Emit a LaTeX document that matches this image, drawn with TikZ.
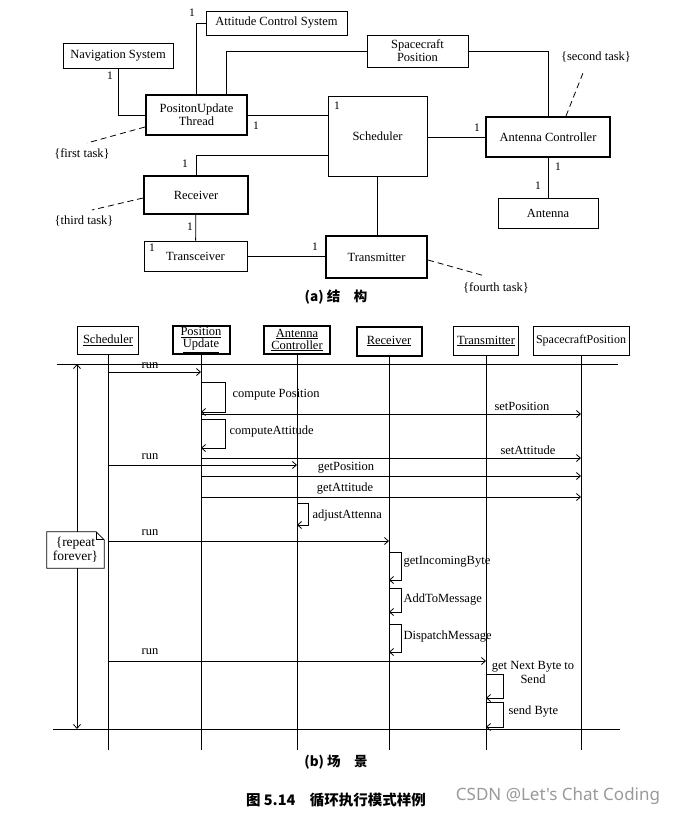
\documentclass[tikz,border=0pt]{standalone}
\usepackage{fontspec}
\setmainfont{Liberation Serif}
\newfontfamily\cjk{Noto Sans CJK SC}
\newfontfamily\wmfont{Noto Sans}
\usetikzlibrary{arrows.meta}

\tikzset{
	every node/.style={font=\fontsize{12.5}{13}\selectfont},
	obj/.style={draw, line width=0.8pt, inner sep=0.5pt, align=center},
	task/.style={obj, line width=2pt},
	mult/.style={inner sep=0pt, font=\fontsize{11.5}{12}\selectfont},
	tagtext/.style={inner sep=0pt, font=\fontsize{12.5}{13}\selectfont},
	tag/.style={line width=0.8pt, dash pattern=on 6pt off 4pt},
	link/.style={line width=0.8pt},
	msg/.style={line width=0.8pt, ->},
	>={Straight Barb[length=4pt,width=7pt]},
}

\begin{document}
\begin{tikzpicture}[x=1pt,y=-1pt]
	\useasboundingbox (0,0) rectangle (686,815);
	% (a) structure
	\node[obj, minimum width=141pt, minimum height=24pt] (acs) at (276.5,23) {Attitude Control System};
	\node[obj, minimum width=110pt, minimum height=25pt] (nav) at (118,55.5) {Navigation System};
	\node[task, minimum width=101pt, minimum height=40pt] (pu) at (196.5,115) {PositonUpdate\\Thread};
	\node[obj, minimum width=99pt, minimum height=80pt] (sched) at (377.5,136) {Scheduler};
	\node[obj, minimum width=101pt, minimum height=32pt] (sp) at (417.5,51) {Spacecraft\\Position};
	\node[task, minimum width=124pt, minimum height=40pt] (ac) at (548,137) {Antenna Controller};
	\node[obj, minimum width=100pt, minimum height=30pt] (ant) at (548,213) {Antenna};
	\node[task, minimum width=104pt, minimum height=38pt] (rec) at (196,195) {Receiver};
	\node[obj, minimum width=103pt, minimum height=30pt] (trc) at (195.5,256) {Transceiver};
	\node[task, minimum width=101pt, minimum height=42pt] (trm) at (376.5,257) {Transmitter};

	\draw[link] (nav.south) |- (pu.west);
	\draw[link] (pu.north) |- (acs.west);
	\draw[link] ([xshift=29.5pt]pu.north) |- (sp.west);
	\draw[link] (sp.east) -| (ac.north);
	\draw[link] (pu.east) -- (pu.east -| sched.west);
	\draw[link] (sched.east |- ac.west) -- (ac.west);
	\draw[link] (ac) -- (ant);
	\draw[link] ([yshift=-19pt]sched.west) -| (rec.north);
	\draw[link] (rec) -- (trc);
	\draw[link] (trc.east) -- (trc.east -| trm.west);
	\draw[link] (sched.south) -- (sched.south |- trm.north);

	\node[mult] (m1) at (110,76) {1};
	\node[mult] (m2) at (192,13) {1};
	\node[mult] (m3) at (256,126) {1};
	\node[mult] (m4) at (337,106) {1};
	\node[mult] (m5) at (185,164) {1};
	\node[mult] (m6) at (477,128) {1};
	\node[mult] (m7) at (558,167) {1};
	\node[mult] (m8) at (538,186) {1};
	\node[mult] (m9) at (190,227) {1};
	\node[mult] (m10) at (152,248) {1};
	\node[mult] (m11) at (315,247) {1};

	\node[tagtext] (t1) at (82,154) {\{first task\}};
	\node[tagtext] (t2) at (596,57) {\{second task\}};
	\node[tagtext] (t3) at (84,221) {\{third task\}};
	\node[tagtext] (t4) at (496,288) {\{fourth task\}};
	\coordinate (t1e) at (87,143);
	\coordinate (t2e) at (583,73);
	\coordinate (t3e) at (92,210);
	\coordinate (t4e) at (485,276);
	\draw[tag] ([yshift=-12pt]pu.west) -- (t1e);
	\draw[tag] ([xshift=18pt]ac.north) -- (t2e);
	\draw[tag] ([yshift=-3pt]rec.west) -- (t3e);
	\draw[tag] ([yshift=-3pt]trm.east) -- (t4e);

	\node[font=\cjk\bfseries\fontsize{13.5}{14}\selectfont] (capa) at (336,297) {(a)\ 结\quad 构};

	% (b) scenario
	\node[obj, minimum width=61pt, minimum height=28pt] (h1) at (108,340) {\underline{Scheduler}};
	\node[task, minimum width=57pt, minimum height=28pt, font=\fontsize{12.5}{12}\selectfont] (h2) at (201,340) {\underline{Position}\\\underline{Update}};
	\node[task, minimum width=66pt, minimum height=28pt, font=\fontsize{12.5}{12}\selectfont] (h3) at (297,340) {\underline{Antenna}\\\underline{Controller}};
	\node[task, minimum width=65pt, minimum height=29pt] (h4) at (389,341) {\underline{Receiver}};
	\node[obj, minimum width=65pt, minimum height=29pt] (h5) at (486,341) {\underline{Transmitter}};
	\node[obj, minimum width=96pt, minimum height=29pt, font=\fontsize{12}{12}\selectfont] (h6) at (581,341) {SpacecraftPosition};

	\foreach \h in {h1,h2,h3,h4,h5,h6}
		\draw[link] (\h.south) -- (\h |- 0,750);

	\coordinate (lt) at (57,364);
	\coordinate (rt) at (618,364);
	\coordinate (lb) at (53,729);
	\coordinate (rb) at (620,729);
	\draw[link] (lt) -- (rt);
	\draw[link] (lb) -- (rb);

	% loop bracket
	\coordinate (ltop) at (77,364);
	\coordinate (lbot) at (77,729);
	\draw[link,<->] (ltop) -- (lbot);
	\node[inner sep=0pt, font=\fontsize{13.5}{14}\selectfont, minimum width=57pt, minimum height=36pt, fill=white, align=center] (rep) at (75.5,550) {\{repeat\\forever\}};
	\draw[link] (rep.north west) -- ([xshift=-8pt]rep.north east) -- ([yshift=-8pt]rep.north east) -- (rep.south east) -- (rep.south west) -- cycle;
	\draw[link] ([xshift=-8pt]rep.north east) |- ([yshift=-8pt]rep.north east);

	% messages
	\foreach \a/\b/\y/\t/\lx/\d in {h1/h2/372/run/150/6, h2/h6/414/setPosition/522/8, h2/h6/458/setAttitude/528/8,
		h1/h3/465/run/150/8, h2/h6/476/getPosition/346/8, h2/h6/497/getAttitude/345/8,
		h1/h4/541/run/150/8, h1/h5/661/run/150/9} {
		\draw[msg] (\a |- 0,\y) -- (\b |- 0,\y);
		\node (lab\y) at (\lx,\y-\d) {\t};
	}

	% self calls
	\foreach \h/\t/\b/\w in {h2/382/412/24, h2/419/448/24, h3/503/525/11, h4/552/580/12,
		h4/588/612/12, h4/624/652/12, h5/674/698/17, h5/702/727/17}
		\draw[msg] (\h |- 0,\t) -- ++(\w,0) |- (\h |- 0,\b);

	\node[anchor=west] (s1) at (229,395) {compute Position};
	\node[anchor=west] (s2) at (226,431) {computeAttitude};
	\node[anchor=west] (s3) at (309,515) {adjustAttenna};
	\node[anchor=west] (s4) at (400,562) {getIncomingByte};
	\node[anchor=west] (s5) at (400,600) {AddToMessage};
	\node[anchor=west] (s6) at (400,637) {DispatchMessage};
	\node[align=center, font=\fontsize{12.5}{14}\selectfont] (s7) at (533,672) {get Next Byte to\\Send};
	\node[anchor=west] (s8) at (505,712) {send Byte};

	\node[font=\cjk\bfseries\fontsize{13.5}{14}\selectfont] (capb) at (336,762) {(b)\ 场\quad 景};
	\node[font=\cjk\bfseries\fontsize{14.5}{15}\selectfont] (fig) at (336,800) {图 5.14\quad 循环执行模式样例};
	\node[font=\wmfont\fontsize{17}{18}\selectfont, text=gray!80] (wm) at (558,796) {CSDN @Let's Chat Coding};
\end{tikzpicture}
\end{document}
